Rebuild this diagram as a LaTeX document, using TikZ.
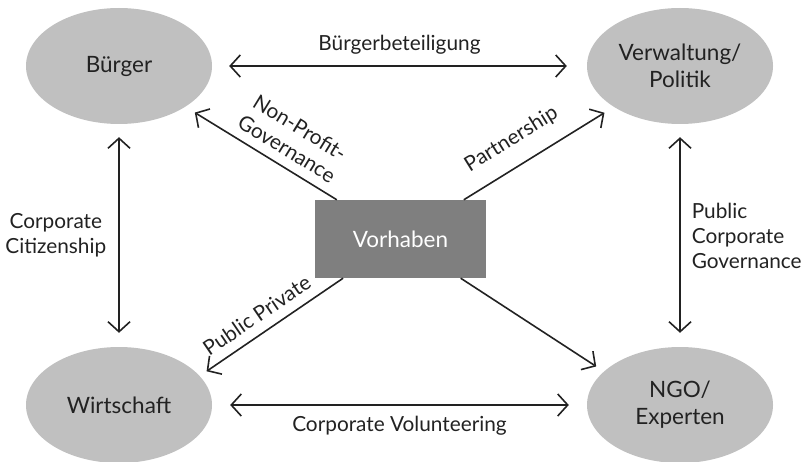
\documentclass[tikz,border=0pt]{standalone}
\usepackage{fontspec}
\setmainfont{Lato}
\usepackage{tikz}
\usetikzlibrary{shapes.geometric,arrows.meta,calc}

\definecolor{ellgray}{RGB}{192,192,192}
\definecolor{boxgray}{RGB}{127,127,127}
\definecolor{txt}{RGB}{34,34,34}

\tikzset{
  party/.style={ellipse, fill=ellgray, minimum width=186pt, minimum height=116pt,
    inner sep=0pt, align=center, text=txt, font=\fontsize{22.5}{27}\selectfont},
  hub/.style={rectangle, fill=boxgray, minimum width=171pt, minimum height=78pt,
    text=white, font=\fontsize{22.5}{27}\selectfont},
  lbl/.style={text=txt, inner sep=2pt, font=\fontsize{20.8}{25}\selectfont},
  tip/.style={line width=1.6pt, draw=txt, -{Straight Barb[length=10pt,width=22pt,line width=1.6pt]}},
  both/.style={line width=1.6pt, draw=txt, {Straight Barb[length=10pt,width=22pt,line width=1.6pt]}-{Straight Barb[length=10pt,width=22pt,line width=1.6pt]}}
}

\begin{document}
\begin{tikzpicture}[x=1pt,y=1pt]
    \def\w{802}
    \def\h{461}
    \useasboundingbox (0,0) rectangle (\w,\h);
    % Draw the actors
    \node[party] (buerger)    at (119,395) {Bürger};
    \node[party] (verwaltung) at (680,395) {Verwaltung/\\Politik};
    \node[party] (wirtschaft) at (119,56)  {Wirtschaft};
    \node[party] (ngo)        at (680,56)  {NGO/\\Experten};
    % Draw the project
    \node[hub] (vorhaben) at (400.5,222) {Vorhaben};
    % aim points of the lower arrows
    \coordinate (wirtschaft-aim) at ($(wirtschaft)+(0,-26)$);
    \coordinate (ngo-aim) at ($(ngo)+(0,-16)$);
    % outer relations
    \draw[both, shorten <=17pt, shorten >=20pt] (buerger) -- node[lbl, above=8.5pt] {Bürgerbeteiligung} (verwaltung);
    \draw[both, shorten <=18pt, shorten >=18pt] (wirtschaft) -- node[lbl, below=8pt] {Corporate Volunteering} (ngo);
    \draw[both, shorten <=13pt, shorten >=14pt] (buerger) -- node[lbl, left=10pt, align=center] {Corporate\\Citizenship} (wirtschaft);
    \draw[both, shorten <=13pt, shorten >=14pt] (verwaltung) -- node[lbl, right=9pt, align=left] {Public\\Corporate\\Governance} (ngo);
    % relations of the project
    \draw[tip, shorten >=11pt] (vorhaben) -- node[lbl, sloped, above=7pt, pos=0.39, align=center] {Non-Profit-\\Governance} (buerger);
    \draw[tip, shorten >=11pt] (vorhaben) -- node[lbl, sloped, above=14pt, pos=0.41] {Partnership} (verwaltung);
    \draw[tip, shorten >=106pt] (vorhaben) -- node[lbl, sloped, above=7.5pt, pos=0.34] {Public Private} (wirtschaft-aim);
    \draw[tip, shorten >=100pt] (vorhaben) -- (ngo-aim);
\end{tikzpicture}
\end{document}
